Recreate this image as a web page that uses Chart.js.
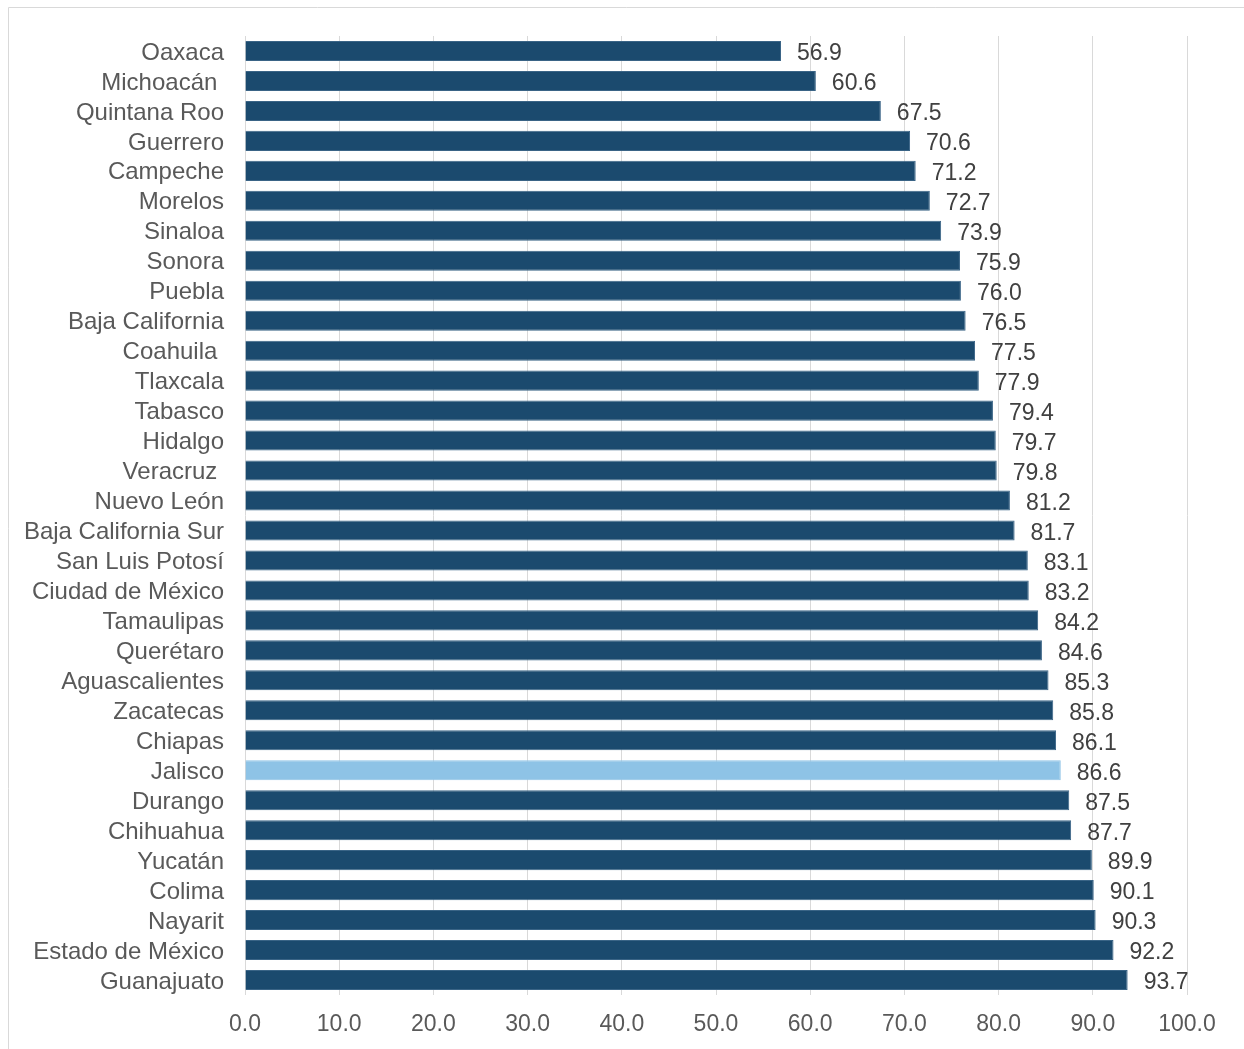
<!DOCTYPE html>
<html>
<head>
<meta charset="utf-8">
<script src="https://cdn.jsdelivr.net/npm/chart.js@4"></script>
<style>
  html, body { margin: 0; padding: 0; background: #fff; }
  #wrap { position: relative; width: 1244px; height: 1049px; }
</style>
</head>
<body>
<div id="wrap"><canvas id="chart" width="1244" height="1049"></canvas></div>
<script>
const states = [
  "Oaxaca", "Michoacán ", "Quintana Roo", "Guerrero", "Campeche", "Morelos",
  "Sinaloa", "Sonora", "Puebla", "Baja California", "Coahuila ", "Tlaxcala",
  "Tabasco", "Hidalgo", "Veracruz ", "Nuevo León", "Baja California Sur",
  "San Luis Potosí", "Ciudad de México", "Tamaulipas", "Querétaro",
  "Aguascalientes", "Zacatecas", "Chiapas", "Jalisco", "Durango", "Chihuahua",
  "Yucatán", "Colima", "Nayarit", "Estado de México", "Guanajuato"
];
const values = [
  56.9, 60.6, 67.5, 70.6, 71.2, 72.7, 73.9, 75.9, 76.0, 76.5, 77.5, 77.9,
  79.4, 79.7, 79.8, 81.2, 81.7, 83.1, 83.2, 84.2, 84.6, 85.3, 85.8, 86.1,
  86.6, 87.5, 87.7, 89.9, 90.1, 90.3, 92.2, 93.7
];
const highlight = "Jalisco";

const dark = "#1b4a6e";
const light = "#8ec3e6";

const font = "'Liberation Sans', Arial, sans-serif";

// value labels right of each bar
const valueLabels = {
  id: "valueLabels",
  afterDatasetsDraw(chart) {
    const c = chart.ctx;
    const meta = chart.getDatasetMeta(0);
    c.save();
    c.font = "23px " + font;
    c.fillStyle = "#404040";
    c.textAlign = "left";
    c.textBaseline = "middle";
    meta.data.forEach((bar, i) => {
      c.fillText(values[i].toFixed(1), bar.x + 16, bar.y + 3);
    });
    c.restore();
  }
};

// outer frame of the chart object
const frame = {
  id: "frame",
  beforeDraw(chart) {
    const c = chart.ctx;
    c.save();
    c.strokeStyle = "#d9d9d9";
    c.lineWidth = 1;
    c.beginPath();
    c.moveTo(8.5, chart.height);
    c.lineTo(8.5, 7.5);
    c.lineTo(chart.width, 7.5);
    c.stroke();
    c.restore();
  }
};

new Chart(document.getElementById("chart"), {
  type: "bar",
  data: {
    labels: states,
    datasets: [{
      data: values,
      backgroundColor: states.map(s => s === highlight ? light : dark),
      borderColor: states.map(s => s === highlight ? light : "#3a6486"),
      borderWidth: { top: 1, bottom: 1, left: 0, right: 1 },
      barPercentage: 0.67,
      categoryPercentage: 1
    }]
  },
  options: {
    indexAxis: "y",
    responsive: false,
    animation: false,
    layout: { padding: { top: 36, right: 57, left: 0, bottom: 0 } },
    plugins: {
      legend: { display: false },
      tooltip: { enabled: false }
    },
    scales: {
      x: {
        min: 0,
        max: 100,
        ticks: {
          stepSize: 10,
          padding: 16,
          color: "#595959",
          font: { family: font, size: 23 },
          callback: v => v.toFixed(1)
        },
        grid: { color: "#d9d9d9", drawTicks: false },
        border: { display: false },
        afterFit: s => { s.height = 54; }
      },
      y: {
        ticks: {
          autoSkip: false,
          padding: 21,
          labelOffset: 2,
          color: "#595959",
          font: { family: font, size: 24 },
          callback: function (v) { return this.getLabelForValue(v); }
        },
        grid: { display: false, drawTicks: false },
        border: { display: false },
        afterFit: s => { s.width = 245; }
      }
    }
  },
  plugins: [frame, valueLabels]
});
</script>
</body>
</html>
